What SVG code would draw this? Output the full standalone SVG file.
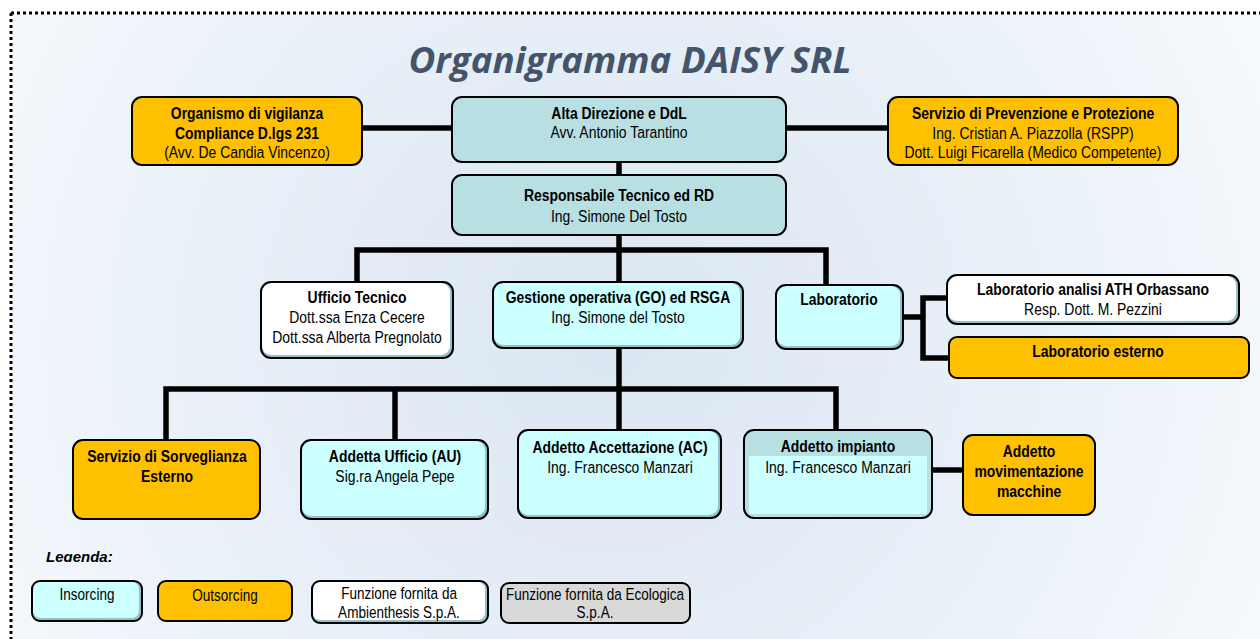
<svg xmlns="http://www.w3.org/2000/svg" width="1260" height="639" viewBox="0 0 1260 639">
<defs>
<radialGradient id="bg" cx="610" cy="340" r="760" gradientUnits="userSpaceOnUse">
<stop offset="0" stop-color="#dbe6f2"/>
<stop offset="0.55" stop-color="#e9f0f8"/>
<stop offset="1" stop-color="#f8fbfe"/>
</radialGradient>
<clipPath id="legclip"><rect x="30" y="535" width="200" height="27"/></clipPath>
</defs>
<style>
.box{stroke:#000;stroke-width:2}
.or{fill:#FFC000}
.tl{fill:#B8DFE2}
.cy{fill:#CCFFFF}
.wh{fill:#FFFFFF}
.gr{fill:#D9D9D9}
.sh{fill:#8fc3c9}
.t{font-family:'Liberation Sans',Arial,sans-serif;font-size:17px;fill:#000;text-anchor:middle;transform-box:fill-box;transform-origin:center;transform:scaleX(0.82)}
.b{font-weight:bold}
.lt{font-family:'Liberation Sans',Arial,sans-serif;font-size:16.5px;fill:#000;text-anchor:middle;transform-box:fill-box;transform-origin:center;transform:scaleX(0.82)}
.conn{stroke:#000;stroke-width:5.5;fill:none;stroke-linejoin:miter;stroke-linecap:butt}
.title{font-family:'Open Sans','Liberation Sans',sans-serif;font-weight:bold;font-style:italic;font-size:36px;fill:#44546A;text-anchor:middle}
.frame{stroke:#000;stroke-width:3;stroke-dasharray:3 3;fill:none}
</style>
<rect x="0" y="0" width="1260" height="639" fill="#ffffff"/>
<rect x="11" y="13" width="1249" height="626" fill="url(#bg)"/>
<path class="frame" d="M11 13 H1260 M11 13 V639"/>
<text class="title" x="630" y="73" textLength="443" lengthAdjust="spacingAndGlyphs">Organigramma DAISY SRL</text>

<g id="connectors">
<path class="conn" d="M362 128 H452"/>
<path class="conn" d="M786 128 H888"/>
<path class="conn" d="M619 162 V175"/>
<path class="conn" d="M619 235 V282"/>
<path class="conn" d="M357 283 V250 H826 V285"/>
<path class="conn" d="M903 317 H923"/>
<path class="conn" d="M947 298 H923 V358 H949"/>
<path class="conn" d="M619 348 V430"/>
<path class="conn" d="M166 440 V389 H836 V430"/>
<path class="conn" d="M395 389 V440"/>
<path class="conn" d="M932 470 H963"/>
</g>

<g id="n-organismo">
<rect class="box or" x="132" y="97" width="230" height="68" rx="10"/>
<text class="t b" x="247" y="119">Organismo di vigilanza</text>
<text class="t b" x="247" y="139">Compliance D.lgs 231</text>
<text class="t" x="247" y="158">(Avv. De Candia Vincenzo)</text>
</g>
<g id="n-alta">
<rect class="box tl" x="452" y="97" width="334" height="65" rx="10"/>
<text class="t b" x="619" y="119">Alta Direzione e DdL</text>
<text class="t" x="619" y="138">Avv. Antonio Tarantino</text>
</g>
<g id="n-spp">
<rect class="box or" x="888" y="97" width="290" height="68" rx="10"/>
<text class="t b" x="1033" y="119">Servizio di Prevenzione e Protezione</text>
<text class="t" x="1033" y="139">Ing. Cristian A. Piazzolla (RSPP)</text>
<text class="t" x="1033" y="158">Dott. Luigi Ficarella (Medico Competente)</text>
</g>
<g id="n-resp">
<rect class="box tl" x="452" y="175" width="334" height="60" rx="10"/>
<text class="t b" x="619" y="201">Responsabile Tecnico ed RD</text>
<text class="t" x="619" y="222">Ing. Simone Del Tosto</text>
</g>
<g id="n-ufficio">
<rect class="sh" x="261" y="282" width="192" height="76" rx="10"/>
<rect class="wh" x="262" y="283" width="188" height="72" rx="9"/>
<rect class="box" fill="none" x="261" y="282" width="192" height="76" rx="10"/>
<text class="t b" x="357" y="303">Ufficio Tecnico</text>
<text class="t" x="357" y="323">Dott.ssa Enza Cecere</text>
<text class="t" x="357" y="343">Dott.ssa Alberta Pregnolato</text>
</g>
<g id="n-go">
<rect class="sh" x="493" y="282" width="250" height="66" rx="10"/>
<rect class="cy" x="494" y="283" width="246" height="62" rx="9"/>
<rect class="box" fill="none" x="493" y="282" width="250" height="66" rx="10"/>
<text class="t b" x="618" y="303">Gestione operativa (GO) ed RSGA</text>
<text class="t" x="618" y="323">Ing. Simone del Tosto</text>
</g>
<g id="n-lab">
<rect class="sh" x="776" y="285" width="127" height="64" rx="10"/>
<rect class="cy" x="777" y="286" width="123" height="60" rx="9"/>
<rect class="box" fill="none" x="776" y="285" width="127" height="64" rx="10"/>
<text class="t b" x="839" y="305">Laboratorio</text>
</g>
<g id="n-ath">
<rect class="sh" x="947" y="275" width="292" height="49" rx="10"/>
<rect class="wh" x="948" y="276" width="288" height="45" rx="9"/>
<rect class="box" fill="none" x="947" y="275" width="292" height="49" rx="10"/>
<text class="t b" x="1093" y="295">Laboratorio analisi ATH Orbassano</text>
<text class="t" x="1093" y="315">Resp. Dott. M. Pezzini</text>
</g>
<g id="n-labest">
<rect class="box or" x="949" y="337" width="300" height="41" rx="8"/>
<text class="t b" x="1098" y="357">Laboratorio esterno</text>
</g>
<g id="n-sorv">
<rect class="box or" x="73" y="440" width="187" height="79" rx="10"/>
<text class="t b" x="167" y="462">Servizio di Sorveglianza</text>
<text class="t b" x="167" y="482">Esterno</text>
</g>
<g id="n-au">
<rect class="sh" x="301" y="440" width="187" height="79" rx="10"/>
<rect class="cy" x="302" y="441" width="183" height="75" rx="9"/>
<rect class="box" fill="none" x="301" y="440" width="187" height="79" rx="10"/>
<text class="t b" x="395" y="462">Addetta Ufficio (AU)</text>
<text class="t" x="395" y="482">Sig.ra Angela Pepe</text>
</g>
<g id="n-acc">
<rect class="sh" x="518" y="430" width="203" height="88" rx="10"/>
<rect class="cy" x="519" y="431" width="199" height="84" rx="9"/>
<rect class="box" fill="none" x="518" y="430" width="203" height="88" rx="10"/>
<text class="t b" x="620" y="453">Addetto Accettazione (AC)</text>
<text class="t" x="620" y="473">Ing. Francesco Manzari</text>
</g>
<g id="n-imp">
<rect class="tl" x="744" y="430" width="188" height="88" rx="10"/>
<rect class="cy" x="749" y="456" width="178" height="58"/>
<rect class="box" fill="none" x="744" y="430" width="188" height="88" rx="10"/>
<text class="t b" x="838" y="452">Addetto impianto</text>
<text class="t" x="838" y="473">Ing. Francesco Manzari</text>
</g>
<g id="n-mov">
<rect class="box or" x="963" y="435" width="132" height="80" rx="10"/>
<text class="t b" x="1029" y="457">Addetto</text>
<text class="t b" x="1029" y="477">movimentazione</text>
<text class="t b" x="1029" y="497">macchine</text>
</g>

<g id="legend">
<text x="46" y="562" clip-path="url(#legclip)" font-family="'Liberation Sans',Arial,sans-serif" font-size="15" font-weight="bold" font-style="italic" fill="#000">Legenda:</text>
<g id="l-ins">
<rect class="sh" x="32" y="581" width="110" height="40" rx="8"/>
<rect class="cy" x="33" y="582" width="106" height="36" rx="7"/>
<rect class="box" fill="none" x="32" y="581" width="110" height="40" rx="8"/>
<text class="lt" x="87" y="600">Insorcing</text>
</g>
<g id="l-out">
<rect class="box or" x="158" y="581" width="134" height="40" rx="8"/>
<text class="lt" x="225" y="601">Outsorcing</text>
</g>
<g id="l-amb">
<rect class="sh" x="312" y="581" width="176" height="42" rx="8"/>
<rect class="wh" x="313" y="582" width="172" height="38" rx="7"/>
<rect class="box" fill="none" x="312" y="581" width="176" height="42" rx="8"/>
<text class="lt" x="399" y="599">Funzione fornita da</text>
<text class="lt" x="399" y="618">Ambienthesis S.p.A.</text>
</g>
<g id="l-eco">
<rect class="box gr" x="501" y="583" width="189" height="40" rx="8"/>
<text class="lt" x="595" y="600">Funzione fornita da Ecologica</text>
<text class="lt" x="595" y="618">S.p.A.</text>
</g>
</g>
</svg>
